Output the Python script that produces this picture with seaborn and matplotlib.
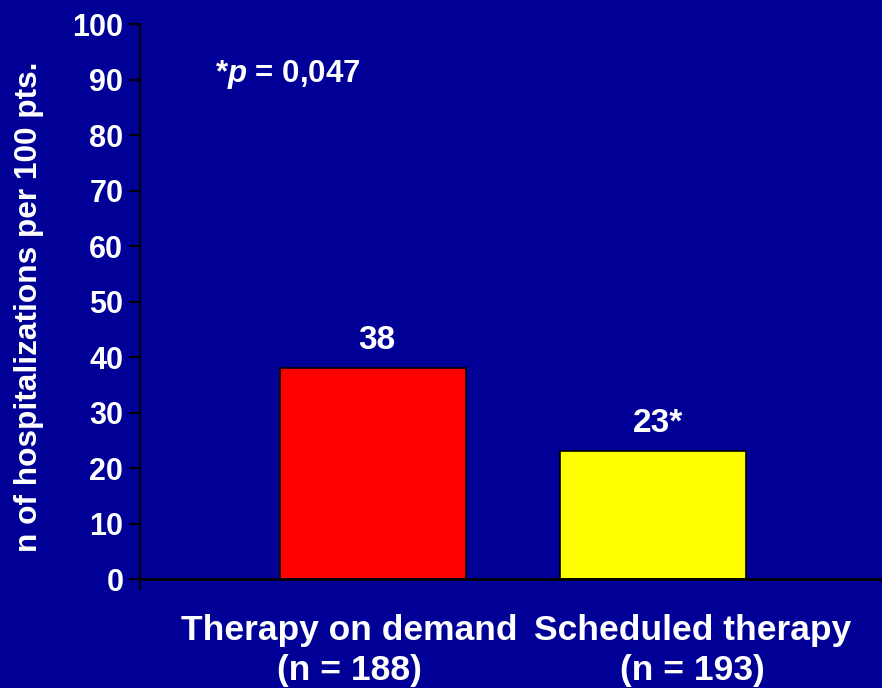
import matplotlib
matplotlib.use("Agg")
import matplotlib.pyplot as plt
import matplotlib.transforms as mtransforms
import seaborn as sns
import pandas as pd

# Hospitalizations per 100 patients by treatment strategy
groups = ["Therapy on demand", "Scheduled therapy"]
group_sizes = ["(n = 188)", "(n = 193)"]
hospitalizations = [38, 23]
value_labels = ["38", "23*"]
bar_colors = ["#FF0000", "#FFFF00"]
y_ticks = [0, 10, 20, 30, 40, 50, 60, 70, 80, 90, 100]

BG = "#000096"
FONT = ["Liberation Sans", "DejaVu Sans"]

sns.set_theme(style="white")
plt.rcParams["font.family"] = FONT
plt.rcParams["font.weight"] = "bold"
plt.rcParams["mathtext.fontset"] = "custom"
plt.rcParams["mathtext.rm"] = "Liberation Sans:bold"
plt.rcParams["mathtext.it"] = "Liberation Sans:italic:bold"
plt.rcParams["mathtext.bf"] = "Liberation Sans:bold"

df = pd.DataFrame({"group": groups, "value": hospitalizations})

W, H = 882, 688
fig = plt.figure(figsize=(W / 100, H / 100), dpi=100, facecolor=BG)
ax = fig.add_axes([140 / W, 1 - 589 / H, (W - 140) / W, (589 - 24) / H])
ax.set_facecolor(BG)

sns.barplot(data=df, x="group", y="value", hue="group", palette=bar_colors,
            order=groups, hue_order=groups, legend=False, width=0.664,
            edgecolor="black", linewidth=1.2, saturation=1, ax=ax, zorder=2)

ax.set_xlim(-0.832, 1.818)
ax.set_ylim(-1.8, 100)
ax.set_yticks(y_ticks)
ax.set_yticklabels([str(t) for t in y_ticks], color="white", fontsize=22,
                   fontweight="bold")
ax.tick_params(axis="y", left=True, length=8, width=1.5, color="black", pad=4)
ax.set_xticks([])
ax.set_xlabel("")
ax.set_ylabel("")

for side in ["top", "right", "bottom"]:
    ax.spines[side].set_visible(False)
ax.spines["left"].set_color("black")
ax.spines["left"].set_linewidth(1.5)
ax.axhline(0, color="black", lw=2, zorder=3)

# Values above the bars
value_dx = [3.5, 5]
for i, (v, lab, dx) in enumerate(zip(hospitalizations, value_labels, value_dx)):
    ax.annotate(lab, (i, v), xytext=(dx, 19), textcoords="offset pixels",
                ha="center", va="baseline", color="white", fontsize=24,
                fontweight="bold")

# Category labels below the axis (two lines each)
label_dx = [-24, 39.5]
line_baselines = [640, 680]
for i, (g, n, dx) in enumerate(zip(groups, group_sizes, label_dx)):
    tr = (mtransforms.blended_transform_factory(ax.transData, fig.transFigure)
          + mtransforms.ScaledTranslation(dx / 100, 0, fig.dpi_scale_trans))
    for txt, yb in zip((g, n), line_baselines):
        ax.text(i, 1 - yb / H, txt, transform=tr, ha="center", va="baseline",
                color="white", fontsize=25.5, fontweight="bold", clip_on=False)

fig.text(29 / W, 1 - 307 / H, "n of hospitalizations per 100 pts.",
         rotation=90, ha="center", va="center", color="white",
         fontsize=22.8, fontweight="bold")

fig.text(215 / W, 1 - 82 / H, r"*$\mathit{p}$ = 0,047", ha="left",
         va="baseline", color="white", fontsize=22.5, fontweight="bold")

fig.savefig("out.png", dpi=100, facecolor=BG)
